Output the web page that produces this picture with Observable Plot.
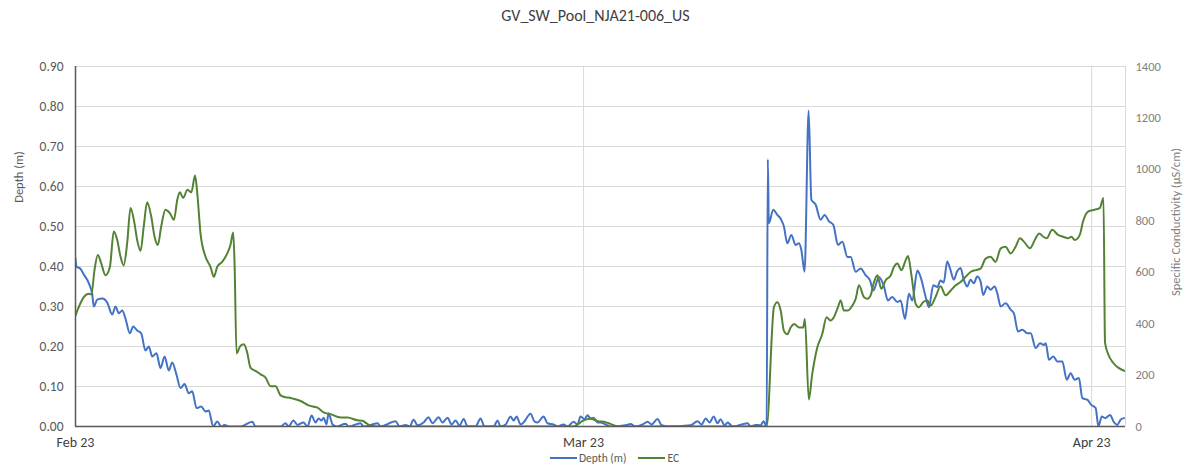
<!DOCTYPE html>
<html>
<head>
<meta charset="utf-8">
<script src="https://cdn.jsdelivr.net/npm/d3@7"></script>
<script src="https://cdn.jsdelivr.net/npm/@observablehq/plot@0.6"></script>
<style>
  body { margin: 0; background: #fff; font-family: Carlito, Lato, "Open Sans", sans-serif; }
  #wrap { position: relative; width: 1191px; height: 469px; overflow: hidden; }
  #chart { position: absolute; left: 0; top: 0; }
  #title { position: absolute; top: 6px; left: 0; width: 1191px; text-align: center; font-size: 16px; color: #404040; }
  .ylab { position: absolute; white-space: nowrap; transform: translate(-50%, -50%) rotate(-90deg); font-size: 12.5px; }
  #legend { position: absolute; top: 451px; left: 550px; display: flex; align-items: center; font-size: 11.5px; color: #595959; }
  .sw { display: inline-block; width: 27px; height: 2px; margin-right: 2px; }
  .item { display: inline-flex; align-items: center; margin-right: 12px; }
</style>
</head>
<body>
<div id="wrap">
  <div id="chart"></div>
  <div id="title">GV_SW_Pool_NJA21-006_US</div>
  <div class="ylab" style="left:18px; top:177px; color:#595959;">Depth (m)</div>
  <div class="ylab" style="left:1175px; top:222px; color:#7f7f7f;">Specific Conductivity (µS/cm)</div>
  <div id="legend">
    <span class="item"><span class="sw" style="background:#4472C4"></span>Depth (m)</span>
    <span class="item"><span class="sw" style="background:#548235"></span>EC</span>
  </div>
</div>
<script>
// x tick positions (days from first label, labels evenly spaced) and their labels
const xTickDays = [0, 30, 60];
const xTickLabels = ["Feb 23", "Mar 23", "Apr 23"];
const depthTicks = [0, 0.1, 0.2, 0.3, 0.4, 0.5, 0.6, 0.7, 0.8, 0.9];
const ecTicks = [0, 200, 400, 600, 800, 1000, 1200, 1400];

// Depth (m): [day, value]
const depthSeries = [[0,0.42],[0.06,0.40],[0.3,0.394],[0.49,0.38],[0.79,0.358],[0.99,0.33],[1.08,0.30],[1.28,0.317],[1.58,0.32],[1.87,0.31],[2.17,0.28],[2.36,0.30],[2.56,0.283],[2.76,0.29],[2.95,0.27],[3.21,0.233],[3.41,0.25],[3.64,0.24],[3.88,0.233],[4.13,0.19],[4.33,0.20],[4.53,0.175],[4.78,0.183],[5.02,0.146],[5.26,0.175],[5.51,0.14],[5.71,0.16],[5.96,0.13],[6.2,0.096],[6.44,0.106],[6.69,0.083],[6.89,0.088],[7.15,0.046],[7.42,0.05],[7.68,0.0375],[7.87,0.04],[8.13,0],[8.37,0.0125],[8.6,0],[8.8,0.004],[9.05,0],[9.74,0],[10.44,0.012],[10.63,0],[12.11,0],[12.4,0.008],[12.58,0],[12.87,0.015],[13.11,0.004],[13.46,0.01],[13.7,0],[13.94,0.0275],[14.17,0.01],[14.35,0.02],[14.53,0.015],[14.65,0.022],[14.82,0.005],[14.94,0.033],[15.18,0.005],[15.41,0],[15.95,0.007],[16.12,0],[16.83,0.008],[17.01,0],[17.84,0.008],[18.01,0],[18.9,0.013],[19.14,0],[19.49,0.004],[19.73,0],[19.96,0.017],[20.2,0.003],[20.55,0.01],[20.85,0.023],[21.08,0.008],[21.44,0.023],[21.67,0.01],[21.97,0.022],[22.21,0.005],[22.44,0.015],[22.68,0.003],[22.92,0.019],[23.15,0],[23.62,0],[23.92,0.02],[24.15,0],[24.69,0],[24.92,0.015],[25.1,0],[25.4,0.005],[25.69,0.025],[25.87,0.015],[26.05,0.025],[26.28,0.005],[26.46,0.01],[26.87,0.032],[27.11,0.012],[27.28,0.01],[27.64,0.025],[27.87,0.008],[28.23,0.005],[28.46,0],[28.82,0.005],[29.05,0],[29.41,0.012],[29.64,0.005],[29.82,0.025],[30.06,0.018],[30.23,0.028],[30.41,0.02],[30.59,0.022],[30.83,0.01],[31.0,0.01],[31.3,0.005],[31.59,0],[32.48,0.003],[32.77,0.006],[33.07,0],[33.49,0.005],[33.78,0.012],[34.02,0.005],[34.37,0.019],[34.61,0.003],[34.96,0],[36.32,0.003],[36.73,0.013],[36.97,0.005],[37.21,0.02],[37.44,0.01],[37.68,0.025],[37.91,0.008],[38.09,0.018],[38.33,0.003],[38.51,0.01],[38.8,0],[39.69,0.008],[39.86,0],[40.16,0.004],[40.45,0.003],[40.63,0.013],[40.81,0],[40.88,0.668],[40.94,0.508],[41.2,0.542],[41.44,0.529],[41.67,0.517],[41.83,0.50],[42.03,0.458],[42.27,0.479],[42.52,0.454],[42.72,0.458],[42.86,0.441],[43.05,0.387],[43.29,0.79],[43.45,0.567],[43.7,0.555],[44.0,0.517],[44.23,0.529],[44.49,0.513],[44.75,0.504],[45.02,0.454],[45.28,0.462],[45.58,0.424],[45.77,0.424],[46.07,0.387],[46.36,0.395],[46.66,0.378],[46.91,0.366],[47.11,0.34],[47.44,0.374],[47.74,0.35],[47.97,0.315],[48.23,0.324],[48.53,0.311],[48.72,0.315],[48.98,0.269],[49.21,0.332],[49.41,0.315],[49.71,0.39],[49.9,0.374],[50.2,0.324],[50.39,0.298],[50.65,0.353],[50.89,0.349],[51.08,0.365],[51.27,0.36],[51.47,0.4125],[51.66,0.392],[51.86,0.367],[52.06,0.388],[52.26,0.396],[52.45,0.367],[52.65,0.35],[52.85,0.367],[53.05,0.358],[53.24,0.375],[53.44,0.363],[53.6,0.329],[53.84,0.35],[54.03,0.342],[54.27,0.35],[54.43,0.333],[54.63,0.30],[54.92,0.308],[55.22,0.292],[55.41,0.283],[55.65,0.2375],[55.91,0.242],[56.2,0.233],[56.4,0.233],[56.7,0.196],[56.95,0.208],[57.19,0.204],[57.29,0.208],[57.48,0.167],[57.74,0.175],[57.98,0.1625],[58.27,0.1625],[58.53,0.117],[58.76,0.133],[59.0,0.117],[59.25,0.121],[59.45,0.071],[59.74,0.067],[59.98,0.054],[60.24,0.046],[60.4,0],[60.6,0.025],[60.8,0.021],[61.09,0.029],[61.29,0.0125],[61.52,0.004],[61.71,0.017],[61.91,0.021]];

// EC (µS/cm): [day, value]
const ecSeries = [[0,431],[0.19,464],[0.49,503],[0.79,516],[0.94,513],[1.12,608],[1.32,667],[1.52,634],[1.77,588],[2.03,620],[2.26,758],[2.46,726],[2.66,660],[2.85,627],[3.05,712],[3.25,850],[3.48,791],[3.64,725],[3.84,683],[4.03,778],[4.23,872],[4.47,817],[4.67,738],[4.86,706],[5.06,778],[5.31,843],[5.57,830],[5.81,804],[6.01,882],[6.16,911],[6.36,889],[6.61,921],[6.84,911],[7.06,976],[7.19,908],[7.38,751],[7.68,660],[7.97,621],[8.17,582],[8.37,621],[8.66,640],[8.96,673],[9.15,706],[9.31,754],[9.39,640],[9.51,284],[9.74,314],[9.94,320],[10.14,287],[10.33,229],[10.63,216],[10.93,203],[11.22,190],[11.52,157],[11.81,157],[12.11,121],[12.4,114],[12.7,111],[12.87,108],[13.29,99],[13.76,82],[14.29,73],[14.65,55],[15.06,48],[15.65,35],[16.06,35],[16.65,24],[16.95,22],[17.19,12],[17.42,4],[17.84,0],[29.41,0],[30.0,24],[30.41,30],[30.83,21],[31.3,17],[31.59,10],[32.01,0],[40.81,0],[41.24,464],[41.44,483],[41.64,451],[41.83,372],[42.03,359],[42.23,385],[42.43,399],[42.72,385],[42.97,385],[43.07,418],[43.3,105],[43.5,203],[43.8,307],[44.09,359],[44.35,425],[44.58,412],[44.78,425],[45.02,464],[45.18,490],[45.37,451],[45.61,451],[45.87,470],[46.07,497],[46.26,549],[46.56,503],[46.76,497],[46.95,510],[47.15,562],[47.35,588],[47.58,536],[47.84,569],[48.14,588],[48.33,621],[48.53,634],[48.77,608],[49.02,647],[49.16,663],[49.36,588],[49.61,477],[49.8,464],[50.06,484],[50.3,490],[50.49,470],[50.78,503],[51.08,545],[51.38,510],[51.68,529],[51.97,549],[52.26,562],[52.56,582],[52.85,601],[53.15,608],[53.44,614],[53.74,653],[54.03,660],[54.33,640],[54.63,693],[54.92,699],[55.22,673],[55.51,699],[55.77,732],[56.0,719],[56.36,693],[56.64,725],[56.9,751],[57.14,738],[57.34,732],[57.67,765],[58.02,745],[58.31,738],[58.61,732],[58.8,738],[59.01,725],[59.3,745],[59.49,797],[59.79,836],[60.18,843],[60.48,849],[60.7,889],[60.79,327],[60.98,281],[61.27,248],[61.57,229],[61.96,216]];

const depthMax = 0.9, ecMax = 1400;
const k = depthMax / ecMax; // secondary axis mapping onto the primary y scale

const depthData = depthSeries.map(([day, v]) => ({day, v}));
const ecData = ecSeries.map(([day, v]) => ({day, v}));

const chart = Plot.plot({
  width: 1191,
  height: 469,
  marginLeft: 75,
  marginRight: 66,
  marginTop: 66,
  marginBottom: 43,
  style: { fontFamily: "Carlito, Lato, 'Open Sans', sans-serif", fontSize: "13px", color: "#595959", background: "transparent" },
  x: { domain: [0, 62] },
  y: { domain: [0, depthMax] },
  marks: [
    Plot.gridY(depthTicks, { stroke: "#d9d9d9", strokeOpacity: 1, strokeWidth: 1 }),
    Plot.gridX(xTickDays.slice(1), { stroke: "#d9d9d9", strokeOpacity: 1, strokeWidth: 1 }),
    Plot.ruleX([62], { stroke: "#d9d9d9", strokeWidth: 1 }),
    Plot.lineY(depthData, { x: "day", y: "v", stroke: "#4472C4", strokeWidth: 2, curve: "monotone-x", clip: true }),
    Plot.lineY(ecData, { x: "day", y: d => d.v * k, stroke: "#548235", strokeWidth: 2, curve: "monotone-x", clip: true }),
    Plot.ruleY([0], { stroke: "#595959", strokeWidth: 1.5 }),
    Plot.ruleX([0], { stroke: "#595959", strokeWidth: 1.5 }),
    Plot.axisY(depthTicks, { anchor: "left", tickSize: 0, tickPadding: 12, tickFormat: d => d.toFixed(2), label: null, fontSize: 13.5, fill: "#595959" }),
    Plot.axisY(ecTicks.map(v => v * k), { anchor: "right", tickSize: 0, tickPadding: 10, tickFormat: d => String(Math.round(d / k)), label: null, fontSize: 12.5, fill: "#7f7f7f" }),
    Plot.axisX(xTickDays, { anchor: "bottom", tickSize: 0, tickPadding: 11, tickFormat: (d, i) => xTickLabels[i], label: null, fontSize: 14, fill: "#404040" })
  ]
});
document.getElementById("chart").appendChild(chart);
</script>
</body>
</html>
